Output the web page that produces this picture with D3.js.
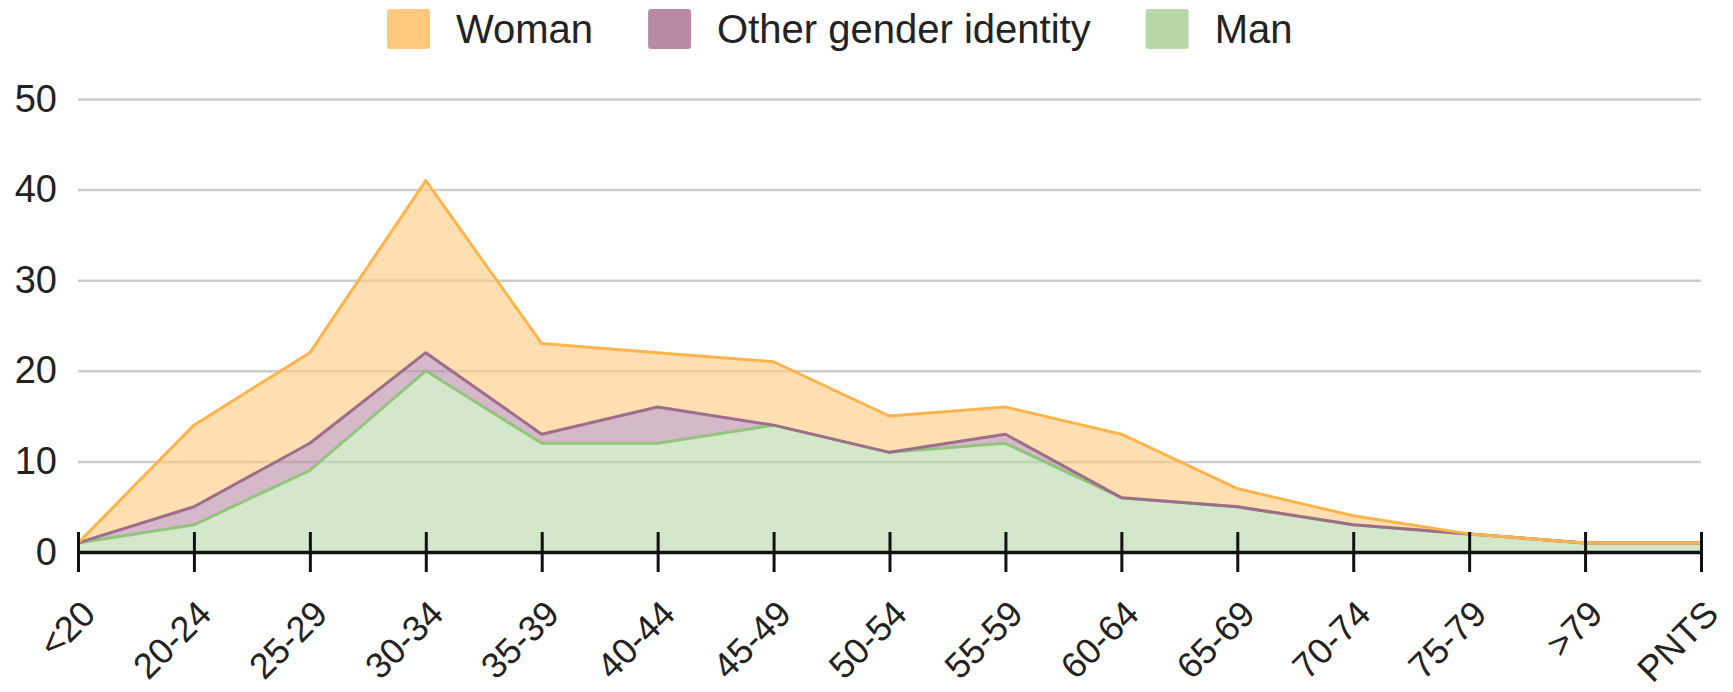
<!DOCTYPE html>
<html>
<head>
<meta charset="utf-8">
<script src="https://cdn.jsdelivr.net/npm/d3@7"></script>
<style>
    body { margin: 0; background: #fff; }
    text { font-family: 'Liberation Sans', Arial, sans-serif; fill: #222; }
</style>
</head>
<body>
<div id="chart"></div>
<script>
const svgWidth = 1733;
const svgHeight = 692;
const plotLeft = 78;
const plotRight = 1701;
const plotTop = 99;
const plotBottom = 552;
const fontSize = 38;
const xLabelSize = 36;

// Age groups along the x axis
const categories = ['<20', '20-24', '25-29', '30-34', '35-39', '40-44', '45-49', '50-54',
    '55-59', '60-64', '65-69', '70-74', '75-79', '>79', 'PNTS'];

// Counts per series (stacked: Man at the bottom, then Other, then Woman)
const manValues = [1, 3, 9, 20, 12, 12, 14, 11, 12, 6, 5, 3, 2, 1, 1];
const otherValues = [0, 2, 3, 2, 1, 4, 0, 0, 1, 0, 0, 0, 0, 0, 0];
const womanValues = [0, 9, 10, 19, 10, 6, 7, 4, 3, 7, 2, 1, 0, 0, 0];

const yTicks = [0, 10, 20, 30, 40, 50];

const seriesKeys = ['Man', 'Other gender identity', 'Woman'];
const legendOrder = ['Woman', 'Other gender identity', 'Man'];
const colors = {'Woman': '#ffc97d', 'Other gender identity': '#ba8aa5', 'Man': '#b6d7a8'};
const lineColors = {'Woman': '#fdb44c', 'Other gender identity': '#9d6d89', 'Man': '#93c47d'};

// Build rows for d3.stack from the arrays
const rows = categories.map((c, i) => {
    return {category: c, 'Man': manValues[i], 'Other gender identity': otherValues[i], 'Woman': womanValues[i]};
});

const x = d3.scalePoint().domain(categories).range([plotLeft, plotRight]);
const y = d3.scaleLinear().domain([0, 50]).range([plotBottom, plotTop]);

const svg = d3.select('#chart').append('svg')
    .attr('width', svgWidth)
    .attr('height', svgHeight);

// Grid lines
svg.append('g')
    .attr('class', 'grid')
    .attr('transform', 'translate(' + plotLeft + ',0)')
    .call(d3.axisLeft(y).tickValues(yTicks).tickSize(-(plotRight - plotLeft)).tickFormat(''))
    .call(g => g.select('.domain').remove())
    .call(g => g.selectAll('line').attr('stroke', '#cccccc').attr('stroke-width', 2.5));

// Y axis labels
svg.append('g')
    .attr('class', 'yAxis')
    .attr('transform', 'translate(' + plotLeft + ',0)')
    .call(d3.axisLeft(y).tickValues(yTicks).tickSize(0).tickPadding(21))
    .call(g => g.select('.domain').remove())
    .call(g => g.selectAll('text')
        .style('font-size', fontSize + 'px')
        .attr('fill', '#222'));

// Stacked areas
const stacked = d3.stack().keys(seriesKeys)(rows);

const area = d3.area()
    .x(d => x(d.data.category))
    .y0(d => y(d[0]))
    .y1(d => y(d[1]));

const topLine = d3.line()
    .x(d => x(d.data.category))
    .y(d => y(d[1]));

svg.append('g').selectAll('path.area')
    .data(stacked)
    .enter()
    .append('path')
        .attr('class', 'area')
        .attr('d', area)
        .attr('fill', d => colors[d.key])
        .attr('fill-opacity', 0.6);

svg.append('g').selectAll('path.line')
    .data(stacked)
    .enter()
    .append('path')
        .attr('class', 'line')
        .attr('d', topLine)
        .attr('fill', 'none')
        .attr('stroke', d => lineColors[d.key])
        .attr('stroke-width', 3)
        .attr('stroke-linejoin', 'round');

// X axis with ticks crossing the baseline
svg.append('g')
    .attr('class', 'xAxis')
    .attr('transform', 'translate(0,' + plotBottom + ')')
    .call(d3.axisBottom(x).tickSizeInner(20).tickSizeOuter(0))
    .call(g => g.select('.domain').attr('stroke', '#111').attr('stroke-width', 3.5))
    .call(g => g.selectAll('.tick line').attr('y1', -20).attr('stroke', '#111').attr('stroke-width', 3))
    .call(g => g.selectAll('.tick text')
        .attr('y', 0)
        .attr('dy', 0)
        .attr('text-anchor', 'end')
        .attr('transform', 'translate(19,64) rotate(-45)')
        .style('font-size', xLabelSize + 'px')
        .attr('fill', '#222'));

// Legend
const legend = svg.append('g').attr('class', 'legend');
let legendX = 387;
legendOrder.forEach(key => {
    legend.append('rect')
        .attr('x', legendX)
        .attr('y', 9)
        .attr('width', 43)
        .attr('height', 40)
        .attr('rx', 3)
        .attr('fill', colors[key]);
    const label = legend.append('text')
        .attr('x', legendX + 43 + 26)
        .attr('y', 43)
        .style('font-size', '40px')
        .text(key);
    legendX += 43 + 26 + label.node().getComputedTextLength() + 55;
});
</script>
</body>
</html>
